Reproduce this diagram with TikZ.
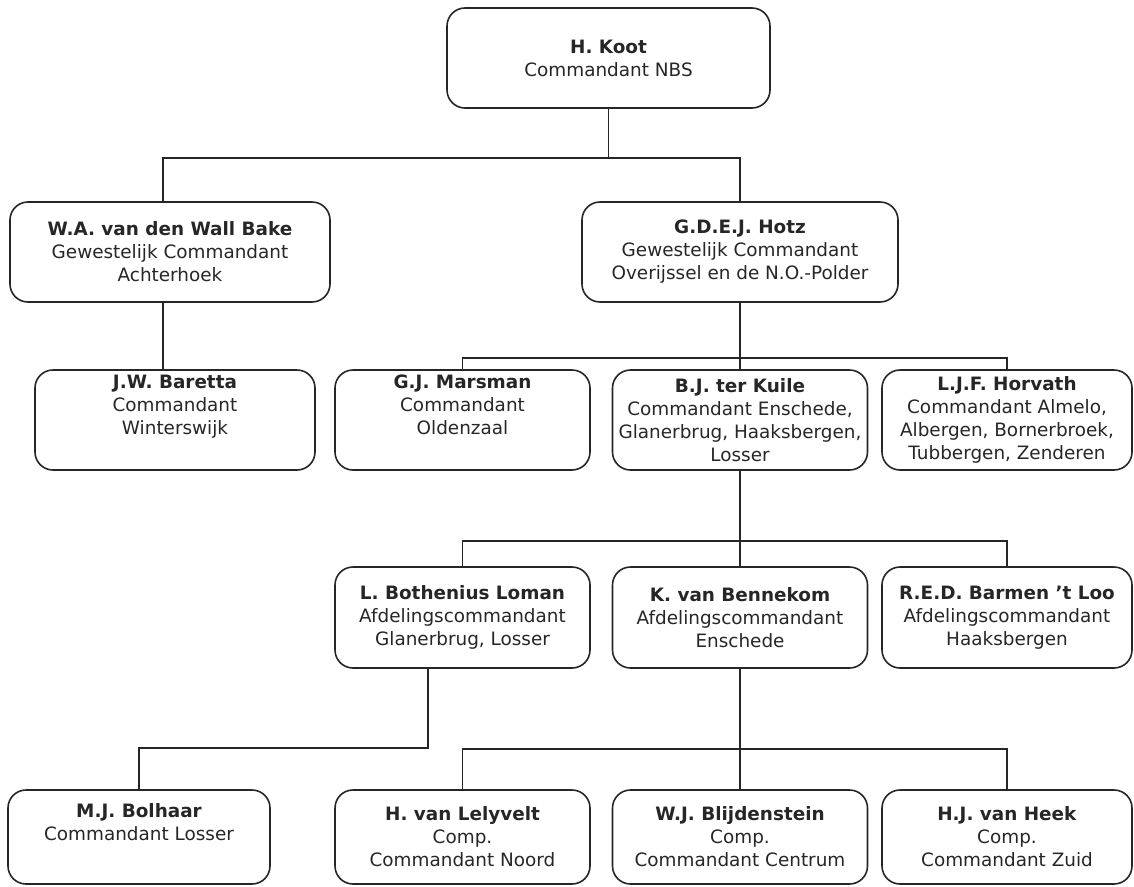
\documentclass[tikz,border=0pt]{standalone}
\usepackage{fontspec}
\setmainfont{DejaVu Sans}
\begin{document}
\begin{tikzpicture}[x=1pt,y=-1pt,
  unit/.style={draw=black!85,line width=1.6pt,rounded corners=18pt,align=center,
    text=black!85,inner sep=0pt,font=\fontsize{18.4}{23}\selectfont},
  link/.style={draw=black!85,line width=1.4pt}]
\useasboundingbox (0,0) rectangle (1134,886);

\node (koot) at (608.5,58) [unit,minimum width=323pt,minimum height=100pt]{\textbf{H. Koot}\\Commandant NBS};

\node (wall) at (170,252) [unit,minimum width=320pt,minimum height=100pt]{\textbf{W.A. van den Wall Bake}\\Gewestelijk Commandant\\Achterhoek};
\node (hotz) at (740,252) [unit,minimum width=316pt,minimum height=100pt]{\textbf{G.D.E.J. Hotz}\\Gewestelijk Commandant\\Overijssel en de N.O.-Polder};

\node (baretta) at (175,420) [unit,minimum width=280pt,minimum height=100pt]{\textbf{J.W. Baretta}\\Commandant\\Winterswijk\\\strut};
\node (marsman) at (462.5,420) [unit,minimum width=255pt,minimum height=100pt]{\textbf{G.J. Marsman}\\Commandant\\Oldenzaal\\\strut};
\node (kuile) at (740,420) [unit,minimum width=255pt,minimum height=100pt]{\textbf{B.J. ter Kuile}\\Commandant Enschede,\\Glanerbrug, Haaksbergen,\\Losser};
\node (horvath) at (1007,420) [unit,minimum width=250pt,minimum height=100pt]{\textbf{L.J.F. Horvath}\\Commandant Almelo,\\Albergen, Bornerbroek,\\Tubbergen, Zenderen};

\node (loman) at (462.5,617.5) [unit,minimum width=255pt,minimum height=101pt]{\textbf{L. Bothenius Loman}\\Afdelingscommandant\\Glanerbrug, Losser};
\node (bennekom) at (740,617.5) [unit,minimum width=255pt,minimum height=101pt]{\textbf{K. van Bennekom}\\Afdelingscommandant\\Enschede};
\node (barmen) at (1007,617.5) [unit,minimum width=250pt,minimum height=101pt]{\textbf{R.E.D. Barmen 't Loo}\\Afdelingscommandant\\Haaksbergen};

\node (bolhaar) at (139,837) [unit,minimum width=262pt,minimum height=94pt]{\textbf{M.J. Bolhaar}\\Commandant Losser\\\strut};
\node (lelyvelt) at (462.5,837) [unit,minimum width=255pt,minimum height=94pt]{\textbf{H. van Lelyvelt}\\Comp.\\Commandant Noord};
\node (blijden) at (740,837) [unit,minimum width=255pt,minimum height=94pt]{\textbf{W.J. Blijdenstein}\\Comp.\\Commandant Centrum};
\node (heek) at (1007,837) [unit,minimum width=250pt,minimum height=94pt]{\textbf{H.J. van Heek}\\Comp.\\Commandant Zuid};

% connectors
\coordinate (wx) at (163,0);
\coordinate (lx) at (428,0);
\draw[link] (koot.south) -- ++(0,49) coordinate (k1);
\draw[link] (wall.north -| wx) |- (k1) -| (hotz.north);
\draw[link] (wall.south -| wx) -- (baretta.north -| wx);

\draw[link] (hotz.south) -- ++(0,55) coordinate (h1);
\draw[link] (marsman.north) |- (h1) -| (horvath.north);
\draw[link] (h1) -- (kuile.north);

\draw[link] (kuile.south) -- ++(0,70) coordinate (t1);
\draw[link] (loman.north) |- (t1) -| (barmen.north);
\draw[link] (t1) -- (bennekom.north);

\draw[link] (loman.south -| lx) -- ++(0,79) -| (bolhaar.north);
\draw[link] (bennekom.south) -- ++(0,80) coordinate (b1);
\draw[link] (lelyvelt.north) |- (b1) -| (heek.north);
\draw[link] (b1) -- (blijden.north);
\end{tikzpicture}
\end{document}
